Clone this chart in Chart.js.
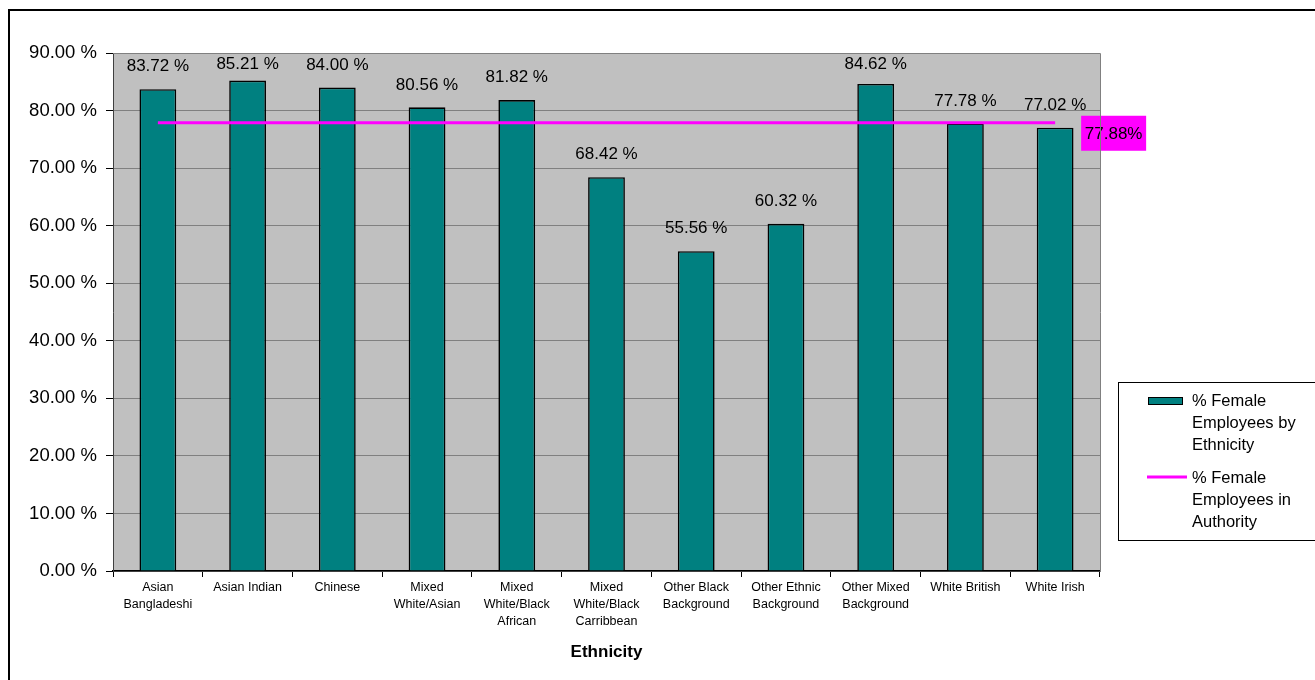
<!DOCTYPE html>
<html>
<head>
<meta charset="utf-8">
<script src="https://cdn.jsdelivr.net/npm/chart.js@4.4.1/dist/chart.umd.min.js"></script>
<style>
    html, body { margin: 0; padding: 0; background: #fff; }
    #wrap { width: 1315px; height: 680px; position: relative; }
</style>
</head>
<body>
<div id="wrap"><canvas id="ethnicityChart"></canvas></div>
<script>
// Chart data
const categories = [
    ['Asian', 'Bangladeshi'],
    ['Asian Indian'],
    ['Chinese'],
    ['Mixed', 'White/Asian'],
    ['Mixed', 'White/Black', 'African'],
    ['Mixed', 'White/Black', 'Carribbean'],
    ['Other Black', 'Background'],
    ['Other Ethnic', 'Background'],
    ['Other Mixed', 'Background'],
    ['White British'],
    ['White Irish']
];
const femaleByEthnicity = [83.72, 85.21, 84.00, 80.56, 81.82, 68.42, 55.56, 60.32, 84.62, 77.78, 77.02];
const femaleInAuthority = [77.88, 77.88, 77.88, 77.88, 77.88, 77.88, 77.88, 77.88, 77.88, 77.88, 77.88];
const authorityLabel = '77.88%';
const yMin = 0;
const yMax = 90;
const yStep = 10;
const legendLabels = [
    ['% Female', 'Employees by', 'Ethnicity'],
    ['% Female', 'Employees in', 'Authority']
];

const FONT = '"Liberation Sans", Arial, sans-serif';
const TEAL = '#008080';
const PINK = '#FF00FF';

// Grey plot background
const plotBackground = {
    id: 'plotBackground',
    beforeDraw(chart) {
        const { ctx, chartArea: a } = chart;
        ctx.save();
        ctx.fillStyle = '#C0C0C0';
        ctx.fillRect(a.left, a.top, a.right - a.left, a.bottom - a.top);
        ctx.restore();
    }
};

// Value labels above bars + the magenta authority label
const valueLabels = {
    id: 'valueLabels',
    afterDatasetsDraw(chart) {
        const { ctx, chartArea: a } = chart;
        ctx.save();
        ctx.font = '17px ' + FONT;
        ctx.fillStyle = '#000';
        ctx.textAlign = 'center';
        ctx.textBaseline = 'bottom';
        chart.getDatasetMeta(0).data.forEach((bar, i) => {
            let y = bar.y - 14;
            if (y - 14 < a.top + 6) y = a.top + 20;
            ctx.fillText(femaleByEthnicity[i].toFixed(2) + ' %', bar.x, y);
        });

        const linePts = chart.getDatasetMeta(1).data;
        const last = linePts[linePts.length - 1];
        const bx = last.x + 26, by = last.y - 7, bw = 65, bh = 35;
        ctx.fillStyle = PINK;
        ctx.fillRect(bx, by, bw, bh);
        ctx.fillStyle = '#000';
        ctx.textBaseline = 'middle';
        ctx.fillText(authorityLabel, bx + bw / 2, by + bh / 2 + 1);
        ctx.restore();
    }
};

// Plot frame, legend and outer border
const frameAndLegend = {
    id: 'frameAndLegend',
    afterDraw(chart) {
        const { ctx, chartArea: a } = chart;
        ctx.save();
        ctx.strokeStyle = '#808080';
        ctx.lineWidth = 1;
        ctx.beginPath();
        ctx.moveTo(a.left, a.top + 0.5);
        ctx.lineTo(a.right + 0.5, a.top + 0.5);
        ctx.lineTo(a.right + 0.5, a.bottom);
        ctx.stroke();

        // legend
        ctx.strokeStyle = '#000';
        ctx.strokeRect(1118.5, 382.5, 220, 158);
        ctx.fillStyle = TEAL;
        ctx.fillRect(1148, 397, 35, 8);
        ctx.strokeRect(1148.5, 397.5, 34, 7);
        ctx.strokeStyle = PINK;
        ctx.lineWidth = 3;
        ctx.beginPath();
        ctx.moveTo(1147, 477);
        ctx.lineTo(1187, 477);
        ctx.stroke();

        ctx.fillStyle = '#000';
        ctx.font = '16.5px ' + FONT;
        ctx.textAlign = 'left';
        ctx.textBaseline = 'middle';
        const starts = [401, 478];
        legendLabels.forEach((lines, k) => {
            lines.forEach((t, j) => ctx.fillText(t, 1192, starts[k] + j * 22));
        });

        // outer border
        ctx.strokeStyle = '#000';
        ctx.lineWidth = 2;
        ctx.strokeRect(9, 10, 1320, 690);
        ctx.restore();
    }
};

new Chart(document.getElementById('ethnicityChart'), {
    data: {
        labels: categories,
        datasets: [{
            type: 'bar',
            label: legendLabels[0].join(' '),
            data: femaleByEthnicity,
            backgroundColor: TEAL,
            borderColor: '#000',
            borderWidth: 1.6,
            barPercentage: 0.82,
            categoryPercentage: 0.5,
            order: 1
        }, {
            type: 'line',
            label: legendLabels[1].join(' '),
            data: femaleInAuthority,
            borderColor: PINK,
            borderWidth: 3,
            pointRadius: 0,
            fill: false,
            order: 0
        }]
    },
    options: {
        responsive: true,
        maintainAspectRatio: false,
        animation: false,
        layout: { padding: { left: 8, right: 215, top: 53, bottom: 4 } },
        scales: {
            x: {
                afterFit(scale) { scale.height = 105; },
                grid: { drawOnChartArea: false, offset: true, tickLength: 6, tickColor: '#000' },
                border: { color: '#000', width: 1.5 },
                ticks: {
                    color: '#000',
                    maxRotation: 0,
                    autoSkip: false,
                    padding: 2,
                    font: { family: FONT, size: 12.5, lineHeight: 1.36 }
                },
                title: {
                    display: true,
                    text: 'Ethnicity',
                    color: '#000',
                    font: { family: FONT, size: 17, weight: 'bold' },
                    padding: { top: 0, bottom: 13 }
                }
            },
            y: {
                min: yMin,
                max: yMax,
                afterFit(scale) { scale.width = 105; },
                grid: { color: '#808080', lineWidth: 1, tickLength: 7, tickColor: '#000' },
                border: { color: '#404040', width: 1 },
                ticks: {
                    stepSize: yStep,
                    color: '#000',
                    padding: 9,
                    font: { family: FONT, size: 18.5 },
                    callback: v => v.toFixed(2) + ' %'
                }
            }
        },
        plugins: {
            legend: { display: false },
            tooltip: { enabled: false }
        }
    },
    plugins: [plotBackground, valueLabels, frameAndLegend]
});
</script>
</body>
</html>
